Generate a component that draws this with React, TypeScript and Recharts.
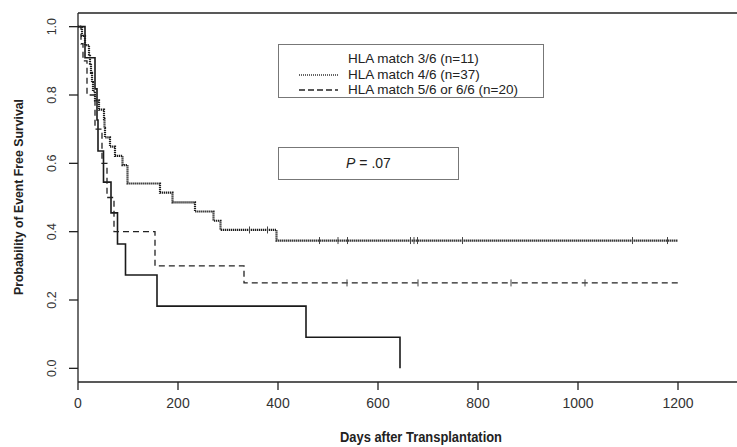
import {
  ComposedChart,
  Line,
  Scatter,
  XAxis,
  YAxis,
  ReferenceLine,
  Label,
} from "recharts";

const xTicks = [0, 200, 400, 600, 800, 1000, 1200];
const yTicks = [0, 0.2, 0.4, 0.6, 0.8, 1.0];

// HLA match 3/6 (n=11) - solid
const match3Days = [0, 14, 34, 38, 40, 51, 66, 79, 95, 158, 456, 644];
const match3Surv = [1, 0.909, 0.818, 0.727, 0.636, 0.545, 0.455, 0.364, 0.273, 0.182, 0.091, 0];

// HLA match 4/6 (n=37) - dotted
const match4Days = [0, 8, 14, 22, 24, 26, 28, 30, 34, 42, 52, 53, 54, 64, 74, 89, 99, 164, 189, 234, 271, 285, 397, 1200];
const match4Surv = [1, 0.973, 0.946, 0.919, 0.892, 0.865, 0.838, 0.811, 0.784, 0.757, 0.73, 0.703, 0.676, 0.649, 0.622, 0.595, 0.541, 0.514, 0.486, 0.459, 0.432, 0.405, 0.374, 0.374];
const match4Censored = [343, 379, 483, 520, 539, 665, 672, 679, 769, 1109, 1179];

// HLA match 5/6 or 6/6 (n=20) - dashed
const match5Days = [0, 6, 10, 18, 34, 48, 58, 72, 154, 332, 1200];
const match5Surv = [1, 0.95, 0.9, 0.8, 0.7, 0.6, 0.5, 0.4, 0.3, 0.25, 0.25];
const match5Censored = [538, 680, 866, 1014];

const legendLabels = [
  "HLA match 3/6 (n=11)",
  "HLA match 4/6 (n=37)",
  "HLA match 5/6 or 6/6 (n=20)",
];

const toPoints = (days: number[], surv: number[]) =>
  days.map((t, i) => ({ t, s: surv[i] }));

// survival value of the step curve at a given day
const survAt = (days: number[], surv: number[], t: number) => {
  let v = surv[0];
  days.forEach((d, i) => {
    if (d <= t) v = surv[i];
  });
  return v;
};

const match3Data = toPoints(match3Days, match3Surv);
const match4Data = toPoints(match4Days, match4Surv);
const match5Data = toPoints(match5Days, match5Surv);
const match4Marks = match4Censored.map((t) => ({ t, s: survAt(match4Days, match4Surv, t) }));
const match5Marks = match5Censored.map((t) => ({ t, s: survAt(match5Days, match5Surv, t) }));

const FONT = "'Liberation Sans', Arial, Helvetica, sans-serif";
const INK = "#222";

const CensorTick = (props: any) => {
  const { cx, cy } = props;
  if (cx == null || cy == null) return null;
  return <line x1={cx} x2={cx} y1={cy - 3.5} y2={cy + 3.5} stroke="#444" strokeWidth={1} />;
};

const XTick = ({ x, y, payload }: any) => (
  <text x={x} y={y + 18} textAnchor="middle" fontSize={14} fontFamily={FONT} fill="#333">
    {payload.value}
  </text>
);

const YTick = ({ x, y, payload }: any) => {
  const bx = x - 13;
  return (
    <text
      x={bx}
      y={y}
      transform={`rotate(-90 ${bx} ${y})`}
      textAnchor="middle"
      fontSize={12.5}
      fontFamily={FONT}
      fill="#333"
    >
      {Number(payload.value).toFixed(1)}
    </text>
  );
};

// titles in the original are set in a condensed bold face, squeeze to match
const XTitle = () => (
  <text
    x={421}
    y={442}
    textAnchor="middle"
    fontSize={14}
    fontWeight="bold"
    fontFamily={FONT}
    fill={INK}
    textLength={162}
    lengthAdjust="spacingAndGlyphs"
  >
    Days after Transplantation
  </text>
);

const YTitle = () => (
  <text
    x={23}
    y={197}
    transform="rotate(-90 23 197)"
    textAnchor="middle"
    fontSize={13}
    fontWeight="bold"
    fontFamily={FONT}
    fill={INK}
    textLength={196}
    lengthAdjust="spacingAndGlyphs"
  >
    Probability of Event Free Survival
  </text>
);

export default function App() {
  return (
    <div style={{ position: "absolute", left: 0, top: 0, width: 737, height: 447, background: "#fff" }}>
      <ComposedChart width={737} height={447} margin={{ top: 13, right: 0, bottom: 0, left: 0 }}>
        <XAxis
          dataKey="t"
          type="number"
          domain={[0, 1318]}
          ticks={xTicks}
          allowDataOverflow
          height={65}
          stroke={INK}
          strokeWidth={1.3}
          tickSize={8}
          tickMargin={0}
          tick={<XTick />}
        >
          <Label content={<XTitle />} />
        </XAxis>
        <YAxis
          dataKey="s"
          type="number"
          domain={[-0.04, 1.04]}
          ticks={yTicks}
          allowDataOverflow
          width={78}
          stroke={INK}
          strokeWidth={1.3}
          tickSize={9}
          tickMargin={0}
          tick={<YTick />}
        >
          <Label content={<YTitle />} />
        </YAxis>
        <ReferenceLine y={1.04} stroke={INK} strokeWidth={1.3} />
        <Line
          data={match3Data}
          dataKey="s"
          type="stepAfter"
          stroke="#1a1a1a"
          strokeWidth={1.6}
          dot={false}
          isAnimationActive={false}
        />
        <Line
          data={match4Data}
          dataKey="s"
          type="stepAfter"
          stroke="#1e1e1e"
          strokeWidth={2.2}
          strokeDasharray="1.3 0.7"
          dot={false}
          isAnimationActive={false}
        />
        <Line
          data={match5Data}
          dataKey="s"
          type="stepAfter"
          stroke={INK}
          strokeWidth={1.3}
          strokeDasharray="6 4"
          dot={false}
          isAnimationActive={false}
        />
        <Scatter data={match4Marks} dataKey="s" shape={<CensorTick />} isAnimationActive={false} />
        <Scatter data={match5Marks} dataKey="s" shape={<CensorTick />} isAnimationActive={false} />
      </ComposedChart>

      {/* legend box */}
      <div
        style={{
          position: "absolute",
          left: 278,
          top: 44,
          width: 264,
          height: 52,
          border: "1px solid #777",
          fontFamily: FONT,
          fontSize: 13.5,
          color: INK,
        }}
      >
        {legendLabels.map((label, i) => (
          <div
            key={label}
            style={{ position: "absolute", left: 0, top: 6 + i * 15.5, height: 16, width: 264, lineHeight: "16px" }}
          >
            <svg width={60} height={16} style={{ position: "absolute", left: 0, top: 0 }}>
              {i === 1 && <line x1={20} x2={59} y1={8} y2={8} stroke="#333" strokeWidth={1.5} strokeDasharray="1 1" />}
              {i === 2 && <line x1={20} x2={59} y1={8} y2={8} stroke={INK} strokeWidth={1.3} strokeDasharray="6 3" />}
            </svg>
            <span style={{ position: "absolute", left: 69, top: 0, whiteSpace: "nowrap" }}>{label}</span>
          </div>
        ))}
      </div>

      {/* p-value box */}
      <div
        style={{
          position: "absolute",
          left: 278,
          top: 147,
          width: 179,
          height: 31,
          border: "1px solid #777",
          fontFamily: FONT,
          fontSize: 14,
          color: INK,
          textAlign: "center",
          lineHeight: "31px",
        }}
      >
        <i>P</i> = .07
      </div>
    </div>
  );
}
